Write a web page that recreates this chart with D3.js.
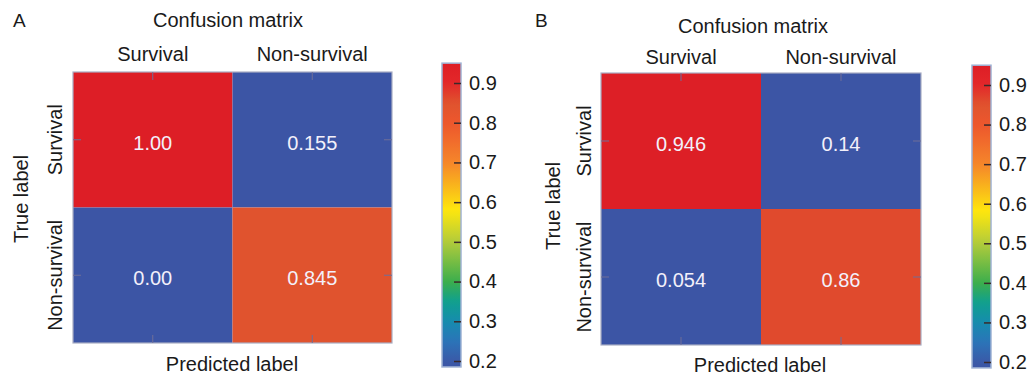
<!DOCTYPE html>
<html>
<head>
<meta charset="utf-8">
<script src="https://cdn.jsdelivr.net/npm/d3@7"></script>
<style>
  body { margin: 0; background: #fff; }
  svg text { font-family: "Liberation Sans", Arial, sans-serif; }
</style>
</head>
<body>
<div id="chart"></div>
<script>
const classes = ['Survival', 'Non-survival']

// rows = true label, columns = predicted label
const valuesA = [[1.00, 0.155], [0.00, 0.845]]
const textA = [['1.00', '0.155'], ['0.00', '0.845']]
const valuesB = [[0.946, 0.14], [0.054, 0.86]]
const textB = [['0.946', '0.14'], ['0.054', '0.86']]

const cbarTicks = [0.2, 0.3, 0.4, 0.5, 0.6, 0.7, 0.8, 0.9]
const cbarRange = [0.185, 0.95]

// colour map
const stopValues = [0.185, 0.2, 0.25, 0.3, 0.35, 0.4, 0.5, 0.58, 0.7, 0.8, 0.85, 0.9, 0.95]
const stopColors = ['#3c55a5', '#3a5aa8', '#2b74b8', '#168cae', '#10a08e', '#3cae4c', '#b2cb3b',
                    '#fee70d', '#f5852a', '#ed572d', '#df532e', '#e3272a', '#dd1e26']

const width = 1030
const height = 377

const color = d3.scaleLinear()
    .domain(stopValues)
    .range(stopColors)
    .clamp(true)

const svg = d3.select('#chart')
    .append('svg')
    .attr('width', width)
    .attr('height', height)

const panels = [
    {letter: 'A', values: valuesA, text: textA, id: 'A',
     x0: 73, x1: 392, y0: 72, y1: 343, titleX: 228, titleY: 27, colPad: 11, rowPad: 11,
     trueX: 28, trueY: 199, predX: 232, predY: 371, letterX: 13, letterY: 27,
     cbX: 442, cbW: 19, cbY0: 63, cbY1: 367, tick9: 83, tick2: 361},
    {letter: 'B', values: valuesB, text: textB, id: 'B',
     x0: 601, x1: 921, y0: 73, y1: 345, titleX: 753, titleY: 33, colPad: 9, rowPad: 10,
     trueX: 560, trueY: 206, predX: 760, predY: 372, letterX: 535, letterY: 27,
     cbX: 972, cbW: 19, cbY0: 64, cbY1: 368, tick9: 85, tick2: 362}
]

const defs = svg.append('defs')

panels.forEach(p => {
    const g = svg.append('g')

    const xScale = d3.scaleBand().domain(classes).range([p.x0, p.x1])
    const yScale = d3.scaleBand().domain(classes).range([p.y0, p.y1])

    // cells
    const cells = []
    p.values.forEach((row, i) => row.forEach((v, j) => {
        cells.push({row: classes[i], col: classes[j], v: v, label: p.text[i][j]})
    }))

    g.selectAll('rect.cell')
        .data(cells)
        .enter()
        .append('rect')
        .attr('class', 'cell')
        .attr('x', d => xScale(d.col))
        .attr('y', d => yScale(d.row))
        .attr('width', xScale.bandwidth())
        .attr('height', yScale.bandwidth())
        .attr('fill', d => color(d.v))

    g.selectAll('text.val')
        .data(cells)
        .enter()
        .append('text')
        .attr('class', 'val')
        .attr('x', d => xScale(d.col) + xScale.bandwidth() / 2)
        .attr('y', d => yScale(d.row) + yScale.bandwidth() / 2 + 10)
        .attr('text-anchor', 'middle')
        .attr('font-size', 20)
        .attr('fill', '#f3f0fa')
        .text(d => d.label)

    // frame
    g.append('rect')
        .attr('x', p.x0)
        .attr('y', p.y0)
        .attr('width', p.x1 - p.x0)
        .attr('height', p.y1 - p.y0)
        .attr('fill', 'none')
        .attr('stroke', '#a9adc4')
        .attr('stroke-width', 1.2)

    // axes: small inward ticks, labels on top and left
    const tickCol = '#6f6f98'
    const top = g.append('g')
        .attr('transform', `translate(0, ${p.y0})`)
        .call(d3.axisTop(xScale).tickSize(-8).tickPadding(p.colPad))
    const left = g.append('g')
        .attr('transform', `translate(${p.x0}, 0)`)
        .call(d3.axisLeft(yScale).tickSize(-8).tickPadding(p.rowPad))
    const bottom = g.append('g')
        .attr('transform', `translate(0, ${p.y1})`)
        .call(d3.axisBottom(xScale).tickSize(-8).tickFormat(''))
    const right = g.append('g')
        .attr('transform', `translate(${p.x1}, 0)`)
        .call(d3.axisRight(yScale).tickSize(-8).tickFormat(''))

    ;[top, left, bottom, right].forEach(a => {
        a.select('.domain').remove()
        a.selectAll('line').attr('stroke', tickCol).attr('stroke-width', 1)
    })
    top.selectAll('text')
        .attr('font-size', 20)
        .attr('fill', '#1a1a1a')
    left.selectAll('text')
        .attr('font-size', 20)
        .attr('fill', '#1a1a1a')
        .attr('transform', 'rotate(-90)')
        .attr('x', 0)
        .attr('y', -p.rowPad)
        .attr('dy', 0)
        .attr('text-anchor', 'middle')

    // titles
    g.append('text')
        .attr('x', p.titleX)
        .attr('y', p.titleY)
        .attr('text-anchor', 'middle')
        .attr('font-size', 20)
        .attr('fill', '#1a1a1a')
        .text('Confusion matrix')
    g.append('text')
        .attr('x', p.letterX)
        .attr('y', p.letterY)
        .attr('font-size', 19)
        .attr('fill', '#1a1a1a')
        .text(p.letter)
    g.append('text')
        .attr('x', p.predX)
        .attr('y', p.predY)
        .attr('text-anchor', 'middle')
        .attr('font-size', 20)
        .attr('fill', '#1a1a1a')
        .text('Predicted label')
    g.append('text')
        .attr('transform', `translate(${p.trueX}, ${p.trueY}) rotate(-90)`)
        .attr('text-anchor', 'middle')
        .attr('font-size', 20)
        .attr('fill', '#1a1a1a')
        .text('True label')

    // colour bar
    const cScale = d3.scaleLinear().domain([0.2, 0.9]).range([p.tick2, p.tick9])
    const grad = defs.append('linearGradient')
        .attr('id', 'grad' + p.id)
        .attr('x1', 0).attr('y1', 1).attr('x2', 0).attr('y2', 0)
    const span = cbarRange[1] - cbarRange[0]
    d3.range(0, 1.0001, 0.02).forEach(t => {
        grad.append('stop')
            .attr('offset', t)
            .attr('stop-color', color(cbarRange[0] + t * span))
    })
    g.append('rect')
        .attr('x', p.cbX)
        .attr('y', cScale(cbarRange[1]))
        .attr('width', p.cbW)
        .attr('height', cScale(cbarRange[0]) - cScale(cbarRange[1]))
        .attr('fill', `url(#grad${p.id})`)
        .attr('stroke', '#9fb2d4')
        .attr('stroke-width', 1.5)

    const cAxis = g.append('g')
        .attr('transform', `translate(${p.cbX + p.cbW}, 0)`)
        .call(d3.axisRight(cScale).tickValues(cbarTicks).tickSize(-7).tickPadding(8).tickFormat(d3.format('.1f')))
    cAxis.select('.domain').remove()
    cAxis.selectAll('line').attr('stroke', '#3a2a2a').attr('stroke-width', 1.5)
    cAxis.selectAll('text').attr('font-size', 20).attr('fill', '#1a1a1a')
})
</script>
</body>
</html>
